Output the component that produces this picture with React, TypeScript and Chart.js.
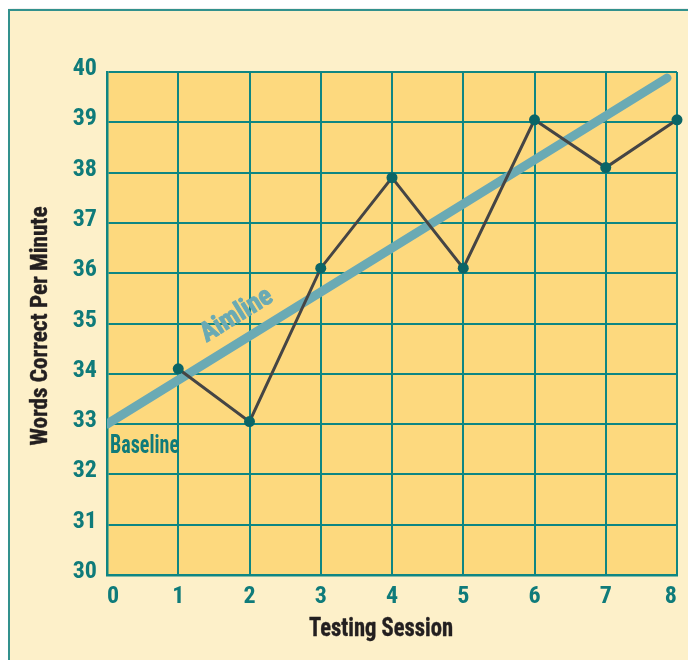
import React, { useEffect, useRef } from "react";
import { Chart, registerables } from "chart.js";

Chart.register(...registerables);

const sessions = [1, 2, 3, 4, 5, 6, 7, 8];
const wordsCorrect = [34.1, 33.05, 36.1, 37.9, 36.1, 39.05, 38.1, 39.05];
const aimlineX = [0, 7.86];
const aimlineY = [33, 39.88];
const xTicks = [0, 1, 2, 3, 4, 5, 6, 7, 8];
const yTicks = [30, 31, 32, 33, 34, 35, 36, 37, 38, 39, 40];
const xTitle = "Testing Session";
const yTitle = "Words Correct Per Minute";
const baselineLabel = "Baseline";
const aimlineLabel = "Aimline";

const FONT = "'Roboto Condensed', Roboto, 'Liberation Sans', sans-serif";
const TEAL = "#0f7b7a";
const GRID = "#0e8683";
const PLOT_BG = "#fdd97e";
const AIM = "#6aaab4";

function drawNarrow(ctx: any, text: string, x: number, y: number, size: number, width: number, align: string, stroke = 0) {
  ctx.save();
  ctx.font = `bold ${size}px ${FONT}`;
  const w = ctx.measureText(text).width;
  const sx = width / w;
  ctx.translate(x, y);
  ctx.scale(sx, 1);
  ctx.textAlign = align;
  ctx.fillText(text, 0, 0);
  if (stroke > 0) {
    ctx.strokeStyle = ctx.fillStyle;
    ctx.lineWidth = stroke;
    ctx.lineJoin = "round";
    ctx.strokeText(text, 0, 0);
  }
  ctx.restore();
}

const decorPlugin = {
  id: "decor",
  beforeDraw(chart: any) {
    const { ctx, chartArea } = chart;
    ctx.save();
    ctx.fillStyle = PLOT_BG;
    ctx.fillRect(chartArea.left, chartArea.top, chartArea.right - chartArea.left, chartArea.bottom - chartArea.top);
    ctx.restore();
  },
  afterDraw(chart: any) {
    const { ctx, chartArea, scales } = chart;
    const xs = scales.x;
    const ys = scales.y;
    ctx.save();
    ctx.textBaseline = "alphabetic";
    // axis titles
    ctx.fillStyle = "#231f20";
    drawNarrow(ctx, xTitle, chartArea.left + 274, chartArea.bottom + 61, 25, 144, "center", 0.4);
    ctx.save();
    ctx.translate(chartArea.left - 60, (chartArea.top + chartArea.bottom) / 2 + 2.5);
    ctx.rotate(-Math.PI / 2);
    drawNarrow(ctx, yTitle, 0, 0, 24, 239, "center", 0.4);
    ctx.restore();

    // Baseline label
    ctx.fillStyle = TEAL;
    drawNarrow(ctx, baselineLabel, chartArea.left + 3, ys.getPixelForValue(aimlineY[0]) + 29, 25, 69, "left");

    // Aimline label
    const x0 = xs.getPixelForValue(aimlineX[0]);
    const y0 = ys.getPixelForValue(aimlineY[0]);
    const x1 = xs.getPixelForValue(aimlineX[1]);
    const y1 = ys.getPixelForValue(aimlineY[1]);
    const ang = Math.atan2(y1 - y0, x1 - x0);
    const t = 2.0;
    const px = xs.getPixelForValue(t);
    const py = ys.getPixelForValue(aimlineY[0] + (t - aimlineX[0]) * (aimlineY[1] - aimlineY[0]) / (aimlineX[1] - aimlineX[0]));
    const off = 24;
    const nx = Math.sin(ang) * off;
    const ny = -Math.cos(ang) * off;
    ctx.translate(px + nx, py + ny);
    ctx.rotate(ang);
    ctx.fillStyle = AIM;
    ctx.textBaseline = "middle";
    drawNarrow(ctx, aimlineLabel, 0, 0, 27, 80, "center", 1);
    ctx.restore();
  },
};

export default function App() {
  const ref = useRef<HTMLCanvasElement>(null);
  useEffect(() => {
    document.body.style.overflow = "hidden";
    const canvas = ref.current!;
    const chart = new Chart(canvas, {
      type: "line",
      data: {
        datasets: [
          {
            label: "Words correct",
            data: sessions.map((s, i) => ({ x: s, y: wordsCorrect[i] })),
            borderColor: "#454545",
            borderWidth: 3,
            pointRadius: 5.5,
            pointBackgroundColor: "#0b6567",
            pointBorderWidth: 0,
            pointBorderColor: "#0b6567",
            tension: 0,
            clip: false as any,
          },
          {
            label: "Aimline",
            data: aimlineX.map((x, i) => ({ x, y: aimlineY[i] })),
            borderColor: AIM,
            borderWidth: 9,
            borderCapStyle: "round",
            pointRadius: 0,
            tension: 0,
            clip: 0 as any,
          },
        ],
      },
      options: {
        animation: false,
        responsive: false,
        devicePixelRatio: 1,
        events: [],
        layout: { padding: { left: 15, top: 64, right: 19, bottom: 0 } },
        plugins: { legend: { display: false }, tooltip: { enabled: false } },
        scales: {
          x: {
            type: "linear",
            min: 0,
            max: 8,
            afterBuildTicks: (s: any) => {
              s.ticks = xTicks.map((v) => ({ value: v }));
            },
            afterFit: (s: any) => {
              s.height = 85;
            },
            grid: { color: GRID, lineWidth: 2, drawTicks: false },
            border: { display: true, color: GRID, width: 2.5 },
            ticks: {
              align: "inner",
              padding: 8,
              color: TEAL,
              font: { family: FONT, size: 24, weight: "bold" },
              maxRotation: 0,
            },
          },
          y: {
            type: "linear",
            min: 30,
            max: 40,
            afterBuildTicks: (s: any) => {
              s.ticks = yTicks.map((v) => ({ value: v }));
            },
            afterFit: (s: any) => {
              s.width = 84;
            },
            grid: { color: GRID, lineWidth: 2, drawTicks: false },
            border: { display: true, color: GRID, width: 2.5 },
            ticks: {
              padding: 10,
              labelOffset: -3,
              color: TEAL,
              font: { family: FONT, size: 24, weight: "bold" },
            },
          },
        },
      },
      plugins: [decorPlugin],
    } as any);
    return () => chart.destroy();
  }, []);

  return (
    <div style={{ position: "relative", width: 688, height: 652 }}>
      <div
        style={{
          position: "absolute",
          left: 0,
          top: 1,
          width: 720,
          height: 700,
          background: "#fdf0c9",
          border: "2px solid #32918d",
          boxShadow: "0 0 8px rgba(90,80,40,0.18)",
        }}
      />
      <canvas
        ref={ref}
        width={688}
        height={652}
        style={{ position: "absolute", left: 0, top: 0, width: 688, height: 652 }}
      />
    </div>
  );
}
